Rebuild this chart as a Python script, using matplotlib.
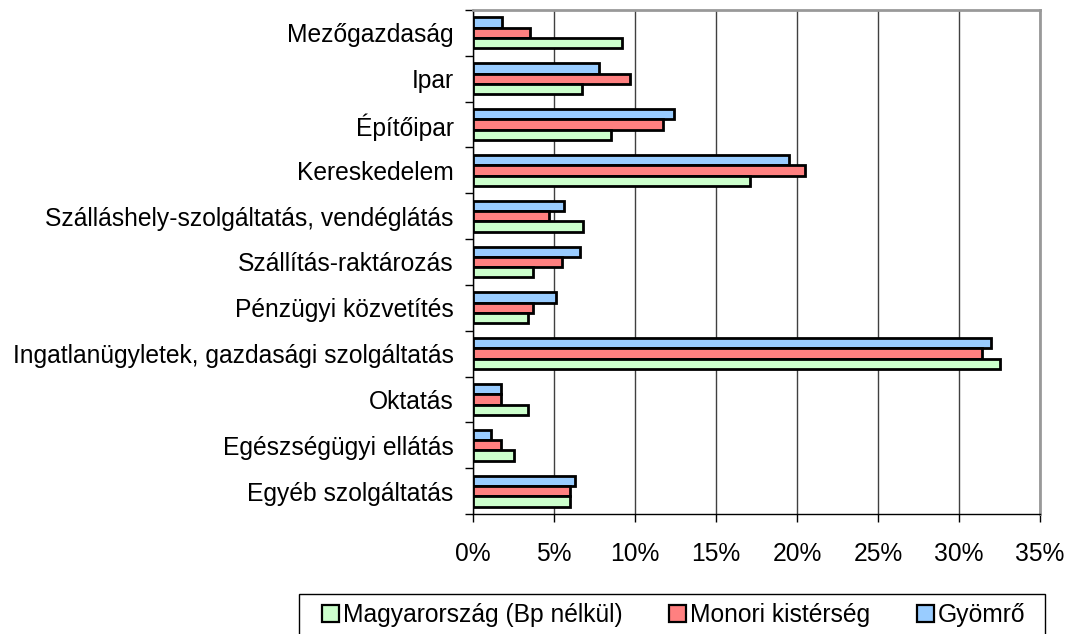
import numpy as np
import matplotlib
matplotlib.use('Agg')
from matplotlib import pyplot as plt
from matplotlib.patches import Patch, Rectangle
from matplotlib.ticker import FuncFormatter, MultipleLocator

plt.rcParams['font.family'] = ['Liberation Sans', 'DejaVu Sans']

# Data (percent)
categories = ['Mezőgazdaság', 'Ipar', 'Építőipar', 'Kereskedelem',
              'Szálláshely-szolgáltatás, vendéglátás', 'Szállítás-raktározás',
              'Pénzügyi közvetítés', 'Ingatlanügyletek, gazdasági szolgáltatás',
              'Oktatás', 'Egészségügyi ellátás', 'Egyéb szolgáltatás']
gyomro = [1.8, 7.8, 12.4, 19.5, 5.6, 6.6, 5.1, 32.0, 1.7, 1.1, 6.3]
monori = [3.5, 9.7, 11.7, 20.5, 4.7, 5.5, 3.7, 31.4, 1.7, 1.7, 6.0]
magyar = [9.2, 6.7, 8.5, 17.1, 6.8, 3.7, 3.4, 32.5, 3.4, 2.5, 6.0]
series_names = ['Magyarország (Bp nélkül)', 'Monori kistérség', 'Gyömrő']

c_blue = '#99CCFF'
c_red = '#FF8080'
c_green = '#CCFFCC'
fs = 17.7

fig = plt.figure(figsize=(10.67, 6.34), dpi=100)
ax = fig.add_axes([473 / 1067, 1 - 514 / 634, (1040 - 473) / 1067, 504 / 634])

y = np.arange(len(categories))
h = 0.225
kw = dict(height=h, edgecolor='black', linewidth=2, zorder=3)
ax.barh(y - h, gyomro, color=c_blue, **kw)
ax.barh(y, monori, color=c_red, **kw)
ax.barh(y + h, magyar, color=c_green, **kw)

ax.set_xlim(0, 35)
ax.set_ylim(len(categories) - 0.5, -0.5)
ax.xaxis.set_major_locator(MultipleLocator(5))
ax.xaxis.set_major_formatter(FuncFormatter(lambda v, p: f'{v:.0f}%'))
ax.grid(axis='x', color='#404040', linewidth=1.0, zorder=0)

# y ticks at boundaries, labels in between
ax.set_yticks(np.arange(len(categories) + 1) - 0.5)
ax.set_yticklabels([])
ax.set_yticks(y, minor=True)
ax.set_yticklabels(categories, minor=True, fontsize=fs)
ax.tick_params(axis='y', which='major', length=6, width=1, direction='out')
ax.tick_params(axis='y', which='minor', length=0, pad=14)
ax.tick_params(axis='x', length=6, width=1, labelsize=fs, pad=14)

for s in ['top', 'right']:
    ax.spines[s].set_color('#999999')
    ax.spines[s].set_linewidth(2)
for s in ['left', 'bottom']:
    ax.spines[s].set_color('black')
    ax.spines[s].set_linewidth(1)

# legend (frame drawn separately, bottom runs off the image)
handles = [Patch(facecolor=c_green, edgecolor='black', linewidth=1.6),
           Patch(facecolor=c_red, edgecolor='black', linewidth=1.6),
           Patch(facecolor=c_blue, edgecolor='black', linewidth=1.6)]
fig.legend(handles, series_names, loc='center left',
           bbox_to_anchor=(322 / 1067, 1 - 615 / 634), ncol=3,
           fontsize=fs, frameon=False,
           handlelength=0.7, handleheight=0.7, handletextpad=0.15,
           columnspacing=1.9, borderpad=0, borderaxespad=0)
fig.add_artist(Rectangle((299 / 1067, -10 / 634), (1045 - 299) / 1067, (50) / 634,
                         transform=fig.transFigure, fill=False,
                         edgecolor='black', linewidth=1))

fig.savefig('out.png', dpi=100)
